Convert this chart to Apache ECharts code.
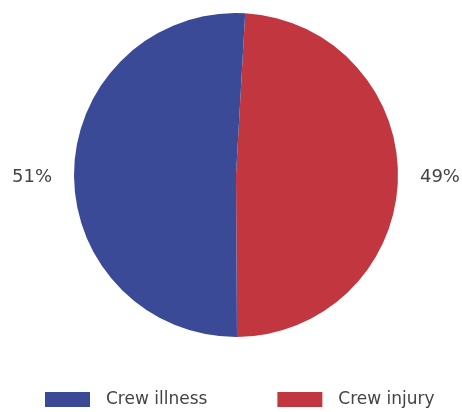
<!DOCTYPE html>
<html><head><meta charset="utf-8">
<script src="https://cdn.jsdelivr.net/npm/echarts@6/dist/echarts.min.js"></script>
<style>html,body{margin:0;padding:0;background:#fff}#c{width:462px;height:412px}</style>
</head><body><div id="c"></div>
<script>
const categories = ['Crew injury', 'Crew illness'];
const values = [49, 51];
const colors = ['#c1363f', '#3b4a96'];
const legendOrder = ['Crew illness', 'Crew injury'];

const chart = echarts.init(document.getElementById('c'), null, {renderer: 'canvas'});
chart.setOption({
  animation: false,
  legend: {
    data: legendOrder,
    bottom: 0,
    left: 45,
    padding: [5, 5, 4, 0],
    itemWidth: 45,
    itemHeight: 15,
    itemGap: 70,
    icon: 'rect',
    textStyle: {fontFamily: 'DejaVu Sans', fontSize: 17, color: '#444', padding: [0, 0, 0, 11]}
  },
  series: [{
    type: 'pie',
    center: [236, 175],
    radius: 162,
    startAngle: 86.75,
    clockwise: true,
    data: categories.map((c, i) => ({name: c, value: values[i], itemStyle: {color: colors[i]}})),
    label: {
      show: true,
      position: 'outside',
      formatter: p => p.value + '%',
      fontFamily: 'DejaVu Sans',
      fontSize: 18,
      color: '#444',
      overflow: 'none'
    },
    labelLine: {show: false, length: 10, length2: 7},
    labelLayout: {y: 177, verticalAlign: 'middle'},
    emphasis: {disabled: true}
  }]
});
</script></body></html>
